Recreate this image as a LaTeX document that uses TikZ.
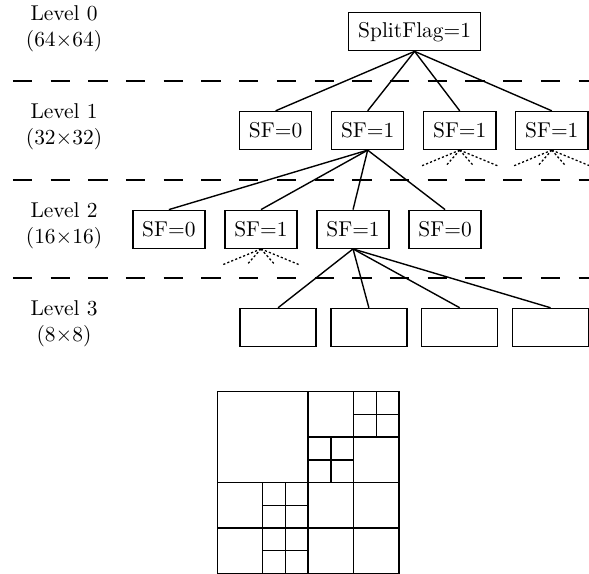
\documentclass[tikz,border=0pt]{standalone}
\tikzset{
  sfbox/.style={draw, line width=0.65pt, minimum height=17.7pt, inner xsep=4.4pt},
  cubox/.style={sfbox, minimum width=35.5pt},
  link/.style={line width=0.65pt},
  fan/.style={line width=0.6pt, dash pattern=on 1pt off 1pt},
  levelsep/.style={line width=0.8pt, dash pattern=on 9pt off 8.6pt},
}
\begin{document}
\begin{tikzpicture}
  \useasboundingbox (0,0) rectangle (9.66,-9.40);
  % level names
  \node[align=center] (lv0) at (1.05,-0.47) {Level 0\\(64$\times$64)};
  \node[align=center] (lv1) at (1.05,-2.08) {Level 1\\(32$\times$32)};
  \node[align=center] (lv2) at (1.05,-3.70) {Level 2\\(16$\times$16)};
  \node[align=center] (lv3) at (1.05,-5.31) {Level 3\\(8$\times$8)};
  % separators between levels
  \draw[levelsep] (0.21,-1.33) -- (9.66,-1.33);
  \draw[levelsep] (0.21,-2.95) -- (9.66,-2.95);
  \draw[levelsep] (0.21,-4.56) -- (9.66,-4.56);
  % tree
  \node[sfbox] (root) at (6.80,-0.52) {SplitFlag=1};
  \node[sfbox] (a1) at (4.52,-2.14) {SF=0};
  \node[sfbox] (a2) at (6.03,-2.14) {SF=1};
  \node[sfbox] (a3) at (7.54,-2.14) {SF=1};
  \node[sfbox] (a4) at (9.05,-2.14) {SF=1};
  \node[sfbox] (b1) at (2.77,-3.76) {SF=0};
  \node[sfbox] (b2) at (4.28,-3.76) {SF=1};
  \node[sfbox] (b3) at (5.79,-3.76) {SF=1};
  \node[sfbox] (b4) at (7.30,-3.76) {SF=0};
  \node[cubox] (c1) at (4.56,-5.37) {};
  \node[cubox] (c2) at (6.05,-5.37) {};
  \node[cubox] (c3) at (7.54,-5.37) {};
  \node[cubox] (c4) at (9.03,-5.37) {};
  \draw[link] (root.south) -- (a1.north);
  \draw[link] (root.south) -- (a2.north);
  \draw[link] (root.south) -- (a3.north);
  \draw[link] (root.south) -- (a4.north);
  \draw[link] (a2.south) -- (b1.north);
  \draw[link] (a2.south) -- (b2.north);
  \draw[link] (a2.south) -- (b3.north);
  \draw[link] (a2.south) -- (b4.north);
  \draw[link] (b3.south) -- (c1.north);
  \draw[link] (b3.south) -- (c2.north);
  \draw[link] (b3.south) -- (c3.north);
  \draw[link] (b3.south) -- (c4.north);
  % children not shown
  \foreach \n in {a3,a4,b2}
    \foreach \dx in {-0.63,-0.23,0.23,0.63}
      \draw[fan] (\n.south) -- ++(\dx,-0.26);
  % partition of the 64x64 block
  \begin{scope}[shift={(3.564,-6.424)}, x=0.3725cm, y=-0.3725cm, line width=0.65pt]
    \draw (0,0) rectangle (8,8);
    \draw (4,0) -- (4,8);
    \draw (6,0) -- (6,8);
    \draw (0,4) -- (8,4);
    \draw (0,6) -- (8,6);
    \draw (4,2) -- (8,2);
    \draw (2,4) -- (2,8);
    \draw (3,4) -- (3,8);
    \draw (7,0) -- (7,2);
    \draw (6,1) -- (8,1);
    \draw (5,2) -- (5,4);
    \draw (4,3) -- (6,3);
    \draw (2,5) -- (4,5);
    \draw (2,7) -- (4,7);
  \end{scope}
\end{tikzpicture}
\end{document}
